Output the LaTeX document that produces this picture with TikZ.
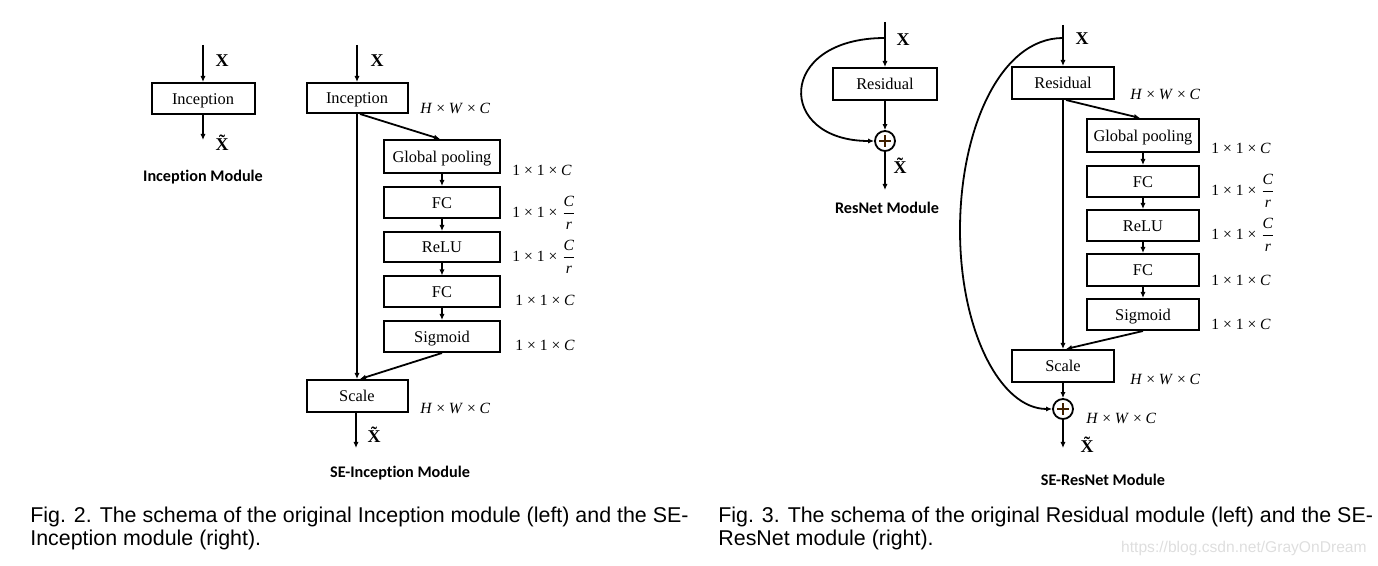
\documentclass[tikz,border=0pt]{standalone}
\usepackage{amsmath}
\usepackage{fontspec}
\setmainfont{Liberation Serif}
\newfontfamily\capfont{Liberation Sans}
\newfontfamily\modfont[Ligatures=NoCommon]{Carlito}
\usetikzlibrary{arrows.meta}
\newcommand{\myhwc}{\textit{H} × \textit{W} × \textit{C}}
\newcommand{\myoc}{1 × 1 × \textit{C}}
\newcommand{\myocr}{1 × 1 × $\dfrac{\textit{C}}{\textit{r}}$}
\newcommand{\myX}{\textbf{X}}
\newcommand{\myXt}{\textbf{\~X}}
\begin{document}
\begin{tikzpicture}[x=0.5pt,y=-0.5pt,
  bx/.style={draw, line width=1pt, inner sep=0pt, text height=6pt, text depth=0pt, font=\fontsize{8.2}{10}\selectfont},
  dimlab/.style={anchor=west, inner sep=0pt, font=\fontsize{7.8}{9}\selectfont},
  xlab/.style={inner sep=0pt, font=\fontsize{9}{10}\selectfont},
  modlab/.style={inner sep=0pt, font=\modfont\bfseries\fontsize{8.1}{10}\selectfont},
  caplab/.style={anchor=base west, inner sep=0pt, font=\capfont\fontsize{10.7}{12}\selectfont},
  sumc/.style={draw, circle, line width=0.9pt, minimum size=10pt, inner sep=0pt},
  plus/.style={line width=0.6pt, black!75!orange},
  ar/.style={line width=0.9pt, -{Latex[length=3pt,width=2.6pt]}},
]
\useasboundingbox (0,0) rectangle (1378,566);

% ---------- Inception module ----------
\coordinate (i1top) at (203,45);
\node[bx, minimum width=51.5pt, minimum height=15.5pt] (inc1) at (203,98.5) {Inception};
\coordinate (i1out) at (203,140);
\draw[ar] (i1top) -- (inc1.north);
\draw[ar] (inc1.south) -- (i1out);
\node[xlab] (x1) at (222,61) {\myX};
\node[xlab] (xt1) at (225,143) {\myXt};
\node[modlab] (m1) at (203,177) {Inception Module};

% ---------- SE-Inception module ----------
\coordinate (i2top) at (357,45);
\node[bx, minimum width=50.5pt, minimum height=15pt] (inc2) at (357,98) {Inception};
\node[bx, minimum width=58pt, minimum height=16.5pt] (gp) at (442,156.5) {Global pooling};
\node[bx, minimum width=58pt, minimum height=15.5pt] (fc1) at (442,202.5) {FC};
\node[bx, minimum width=58pt, minimum height=15pt] (relu) at (442,247) {ReLU};
\node[bx, minimum width=58pt, minimum height=15.5pt] (fc2) at (442,292) {FC};
\node[bx, minimum width=58pt, minimum height=15.5pt] (sig) at (442,336.5) {Sigmoid};
\node[bx, minimum width=50.5pt, minimum height=16pt] (sc1) at (357,396) {Scale};
\coordinate (i2out) at (356,448);
\draw[ar] (i2top) -- (inc2.north);
\draw[ar] (inc2.south) -- (sc1.north);
\draw[ar] ([xshift=1.5pt]inc2.south) -- ([xshift=-1pt]gp.north);
\draw[ar] (gp) -- (fc1);
\draw[ar] (fc1) -- (relu);
\draw[ar] (relu) -- (fc2);
\draw[ar] (fc2) -- (sig);
\draw[ar] (sig.south) -- ([xshift=1.5pt]sc1.north);
\draw[ar] ([xshift=-0.5pt]sc1.south) -- (i2out);
\node[xlab] (x2) at (377,61) {\myX};
\node[xlab] (xt2) at (377,435) {\myXt};
\node[dimlab] (d1) at (420,108) {\myhwc};
\node[dimlab] (d2) at (512,170) {\myoc};
\node[dimlab] (d3) at (512,213) {\myocr};
\node[dimlab] (d4) at (512,257) {\myocr};
\node[dimlab] (d5) at (515,300) {\myoc};
\node[dimlab] (d6) at (515,345) {\myoc};
\node[dimlab] (d7) at (420,408) {\myhwc};
\node[modlab] (m2) at (400,473) {SE-Inception Module};

% ---------- ResNet module ----------
\coordinate (r1top) at (885,22);
\coordinate (r1j) at (885,38);
\node[bx, minimum width=52pt, minimum height=16pt] (res1) at (885,84) {Residual};
\node[sumc] (c1) at (885,141) {};
\coordinate (r1out) at (885,190);
\draw[ar] (r1top) -- (res1.north);
\draw[ar] (res1.south) -- (c1.north);
\draw[ar] (c1.south) -- (r1out);
\draw[ar] (r1j) .. controls (776,38) and (776,141) .. (c1.west);
\draw[plus] ([xshift=-3pt]c1.center) -- ([xshift=3pt]c1.center)
  ([yshift=-3pt]c1.center) -- ([yshift=3pt]c1.center);
\node[xlab] (x3) at (903,40) {\myX};
\node[xlab] (xt3) at (903,166) {\myXt};
\node[modlab] (m3) at (887,208) {ResNet Module};

% ---------- SE-ResNet module ----------
\coordinate (r2top) at (1063,25);
\coordinate (r2j) at (1063,38);
\node[bx, minimum width=51pt, minimum height=16pt] (res2) at (1063,83) {Residual};
\node[bx, minimum width=56pt, minimum height=16.5pt] (gp2) at (1143,135.5) {Global pooling};
\node[bx, minimum width=56pt, minimum height=15.5pt] (fc3) at (1143,181.5) {FC};
\node[bx, minimum width=56pt, minimum height=15.5pt] (relu2) at (1143,225.5) {ReLU};
\node[bx, minimum width=56pt, minimum height=16pt] (fc4) at (1143,270) {FC};
\node[bx, minimum width=56pt, minimum height=15.5pt] (sig2) at (1143,314.5) {Sigmoid};
\node[bx, minimum width=51pt, minimum height=16pt] (sc2) at (1063,366) {Scale};
\node[sumc] (c2) at (1063,409) {};
\coordinate (r2out) at (1063,448);
\draw[ar] (r2top) -- (res2.north);
\draw[ar] (res2.south) -- (sc2.north);
\draw[ar] ([xshift=1.5pt]res2.south) -- ([xshift=-1.5pt]gp2.north);
\draw[ar] (gp2) -- (fc3);
\draw[ar] (fc3) -- (relu2);
\draw[ar] (relu2) -- (fc4);
\draw[ar] (fc4) -- (sig2);
\draw[ar] (sig2.south) -- ([xshift=1.5pt]sc2.north);
\draw[ar] (sc2.south) -- (c2.north);
\draw[ar] (c2.south) -- (r2out);
\draw[ar] (r2j) .. controls (1000,38) and (960,130) .. (960,230)
  .. controls (960,330) and (1000,409) .. (c2.west);
\draw[plus] ([xshift=-3pt]c2.center) -- ([xshift=3pt]c2.center)
  ([yshift=-3pt]c2.center) -- ([yshift=3pt]c2.center);
\node[xlab] (x4) at (1082,39) {\myX};
\node[xlab] (xt4) at (1090,445) {\myXt};
\node[dimlab] (e1) at (1130,94) {\myhwc};
\node[dimlab] (e2) at (1211,148) {\myoc};
\node[dimlab] (e3) at (1211,191) {\myocr};
\node[dimlab] (e4) at (1211,235) {\myocr};
\node[dimlab] (e5) at (1211,280) {\myoc};
\node[dimlab] (e6) at (1211,324) {\myoc};
\node[dimlab] (e7) at (1130,379) {\myhwc};
\node[dimlab] (e8) at (1086,418) {\myhwc};
\node[modlab] (m4) at (1103,480) {SE-ResNet Module};

% ---------- captions ----------
\node[caplab] (cap1a) at (30,523) {Fig. 2. The schema of the original Inception module (left) and the SE-};
\node[caplab] (cap1b) at (30,546) {Inception module (right).};
\node[caplab] (cap2a) at (718,523) {Fig. 3. The schema of the original Residual module (left) and the SE-};
\node[caplab] (cap2b) at (718,546) {ResNet module (right).};
\node[anchor=base east, inner sep=0pt, text=black!13, font=\capfont\fontsize{7.8}{9}\selectfont] (wm) at (1367,553) {https://blog.csdn.net/GrayOnDream};
\end{tikzpicture}
\end{document}
